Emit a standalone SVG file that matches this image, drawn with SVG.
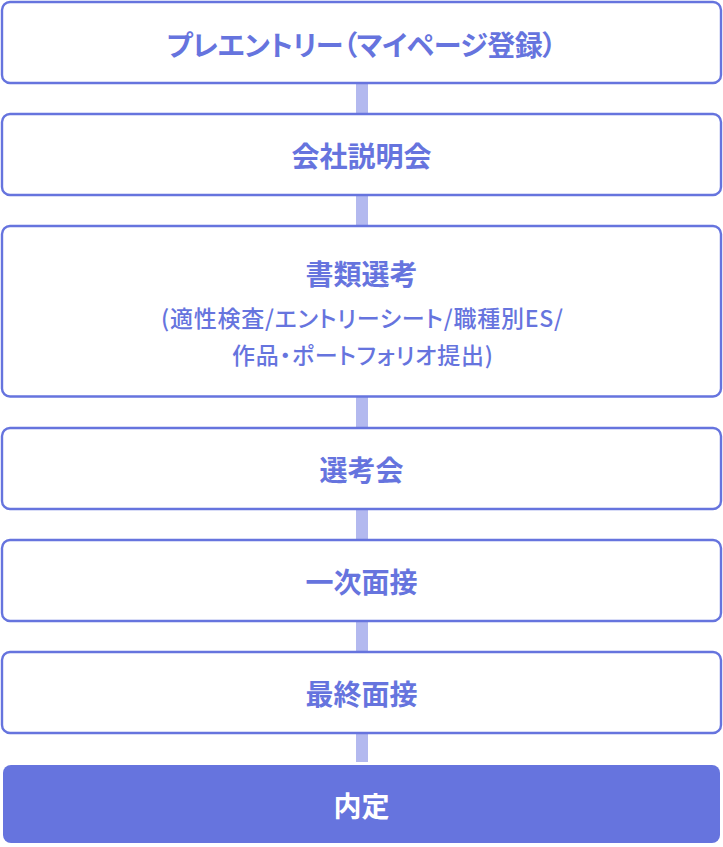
<svg xmlns="http://www.w3.org/2000/svg" width="723" height="847" viewBox="0 0 723 847">
<style>
.box{fill:#ffffff;stroke:#6674DE;stroke-width:2.4}
.final{fill:#6674DE}
.con{fill:#B3B9EF}
.t{font-family:"Noto Sans CJK JP","Noto Sans",sans-serif;font-weight:700;font-size:28px;fill:#6674DE;text-anchor:middle;dominant-baseline:central;font-feature-settings:"palt"}
.s{font-family:"Noto Sans CJK JP","Noto Sans",sans-serif;font-weight:500;font-size:23px;fill:#6674DE;text-anchor:middle;dominant-baseline:central;font-feature-settings:"palt"}
.w{fill:#ffffff}
</style>
<rect width="723" height="847" fill="#ffffff"/>
<g id="connectors">
<rect class="con" x="356" y="84" width="12" height="29"/>
<rect class="con" x="356" y="196" width="12" height="29"/>
<rect class="con" x="356" y="397" width="12" height="30"/>
<rect class="con" x="356" y="510" width="12" height="29"/>
<rect class="con" x="356" y="622" width="12" height="29"/>
<rect class="con" x="356" y="734" width="12" height="28"/>
</g>
<g id="node1">
<rect class="box" x="2" y="2" width="719" height="81" rx="8"/>
<text class="t" x="361.5" y="44" textLength="390" lengthAdjust="spacing">プレエントリー（マイページ登録）</text>
</g>
<g id="node2">
<rect class="box" x="2" y="114" width="719" height="81" rx="8"/>
<text class="t" x="361.5" y="155">会社説明会</text>
</g>
<g id="node3">
<rect class="box" x="2" y="226" width="719" height="170.5" rx="8"/>
<text class="t" x="361.5" y="273">書類選考</text>
<text class="s" x="362" y="317" textLength="402" lengthAdjust="spacing">(適性検査/エントリーシート/職種別ES/</text>
<text class="s" x="362.5" y="353.5" textLength="261" lengthAdjust="spacing">作品・ポートフォリオ提出)</text>
</g>
<g id="node4">
<rect class="box" x="2" y="428" width="719" height="81" rx="8"/>
<text class="t" x="361.5" y="469">選考会</text>
</g>
<g id="node5">
<rect class="box" x="2" y="540" width="719" height="81" rx="8"/>
<text class="t" x="361.5" y="581">一次面接</text>
</g>
<g id="node6">
<rect class="box" x="2" y="652" width="719" height="81" rx="8"/>
<text class="t" x="361.5" y="693">最終面接</text>
</g>
<g id="node7">
<rect class="final" x="3" y="765" width="717" height="78" rx="8"/>
<text class="t w" x="361.5" y="805">内定</text>
</g>
</svg>
